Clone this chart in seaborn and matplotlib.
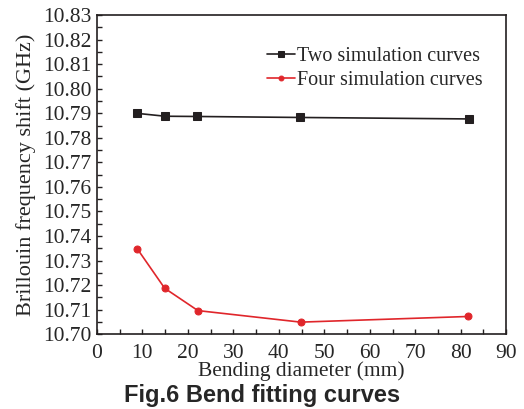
import numpy as np
import pandas as pd
import matplotlib
matplotlib.use('Agg')
import matplotlib.pyplot as plt
from matplotlib.ticker import MultipleLocator
import seaborn as sns

# values
two_x = [8.7, 15.0, 22.1, 44.7, 81.8]
two_y = [10.7900, 10.7888, 10.7887, 10.7883, 10.7877]
four_x = [8.9, 14.9, 22.2, 44.8, 81.6]
four_y = [10.7347, 10.7187, 10.7096, 10.7049, 10.7072]
series_names = ['Two simulation curves', 'Four simulation curves']

sns.set_style('white')
plt.rcParams['font.family'] = ['Liberation Serif', 'DejaVu Serif']

df_two = pd.DataFrame({'x': two_x, 'y': two_y})
df_four = pd.DataFrame({'x': four_x, 'y': four_y})

fig = plt.figure(figsize=(5.24, 4.09), dpi=100)
ax = fig.add_axes([0.185, 0.183, 0.781, 0.78])

sns.lineplot(data=df_two, x='x', y='y', ax=ax, color='#231f20', marker='s',
             markersize=6, markeredgecolor='#231f20', linewidth=1.2,
             label=series_names[0])
sns.lineplot(data=df_four, x='x', y='y', ax=ax, color='#e0262b', marker='o',
             markersize=5, markeredgecolor='#e0262b', linewidth=1.2,
             label=series_names[1])

ax.set_xlim(0, 90)
ax.set_ylim(10.70, 10.83)
ax.xaxis.set_major_locator(MultipleLocator(10))
ax.xaxis.set_minor_locator(MultipleLocator(5))
ax.yaxis.set_major_locator(MultipleLocator(0.01))
ax.yaxis.set_minor_locator(MultipleLocator(0.005))
ax.yaxis.set_major_formatter(matplotlib.ticker.FormatStrFormatter('%.2f'))
ax.tick_params(which='both', direction='in', length=3.5, width=1,
               color='#231f20', top=False, right=False, bottom=True, left=True,
               labelsize=15.5)
ax.tick_params(axis='x', pad=7)
ax.tick_params(axis='y', pad=4)
for s in ax.spines.values():
    s.set_color('#231f20')
    s.set_linewidth(1.2)

ax.set_xlabel('Bending diameter (mm)', fontsize=15.5, labelpad=-1)
ax.set_ylabel('Brillouin frequency shift (GHz)', fontsize=16, labelpad=5)

leg = ax.legend(loc='upper right', bbox_to_anchor=(0.978, 0.945), frameon=False,
                fontsize=14.5, handlelength=1.4, handletextpad=0.1,
                labelspacing=0.25, borderaxespad=0.3, markerscale=0.7)

fig.text(0.5, 0.016, 'Fig.6 Bend fitting curves', ha='center', va='baseline',
         fontsize=17, fontweight='bold', family='Liberation Sans')

fig.savefig('out.png', dpi=100)
